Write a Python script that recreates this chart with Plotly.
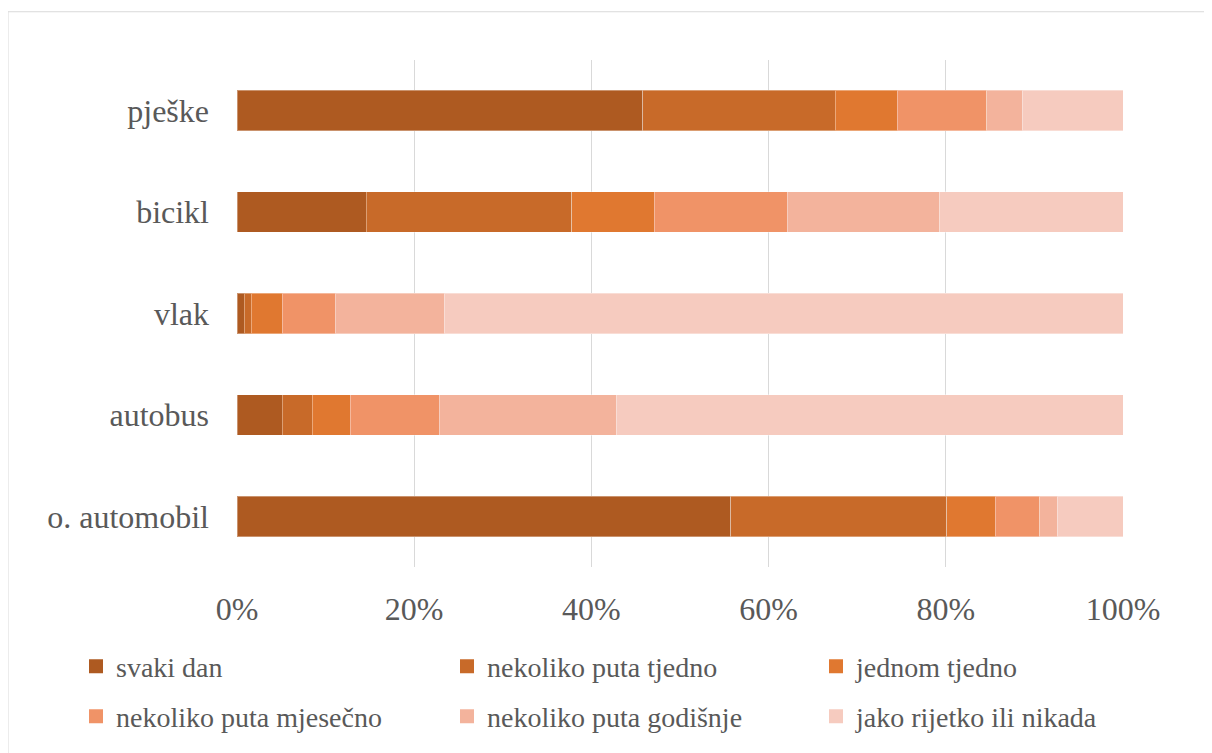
import plotly.graph_objects as go

categories = ["o. automobil", "autobus", "vlak", "bicikl", "pješke"]
series_names = ["svaki dan", "nekoliko puta tjedno", "jednom tjedno",
                "nekoliko puta mjesečno", "nekoliko puta godišnje", "jako rijetko ili nikada"]
svaki_dan = [55.7, 5.1, 0.8, 14.6, 45.8]
tjedno_vise = [24.4, 3.4, 0.8, 23.2, 21.7]
jednom_tjedno = [5.5, 4.3, 3.5, 9.3, 7.0]
mjesecno = [5.0, 10.0, 6.0, 15.0, 10.1]
godisnje = [2.0, 20.0, 12.3, 17.2, 4.0]
nikada = [7.4, 57.2, 76.6, 20.7, 11.4]
tick_vals = [0, 20, 40, 60, 80, 100]
tick_text = ["0%", "20%", "40%", "60%", "80%", "100%"]

colors = ["#AE5A21", "#C86A29", "#E07830", "#F09367", "#F3B39C", "#F6CBBF"]
values = [svaki_dan, tjedno_vise, jednom_tjedno, mjesecno, godisnje, nikada]

FONT = "Liberation Serif"
LEGEND_FONTS = ["serif", "Times New Roman", "Tinos", "Liberation Serif", "Times", "Tinos"]
TXT = "#595959"

# page body has an 8px margin; work in screen pixels and convert
OFF = 8
W, H = 1212 - OFF, 753 - OFF
PL, PR, PT, PB = 237, 1123, 60, 575  # plot area in screen pixels
L, R, T, B = PL - OFF, W - (PR - OFF), PT - OFF, H - (PB - OFF)
pw, ph = W - L - R, H - T - B

def px_x(x):
    return (x - OFF - L) / pw

def px_y(y):
    return (H - B - (y - OFF)) / ph

legend_names = ["legend", "legend2", "legend3", "legend4", "legend5", "legend6"]
leg_x = [76, 447, 816]
leg_y = [676, 727]

fig = go.Figure()
for i, (name, vals) in enumerate(zip(series_names, values)):
    fig.add_trace(go.Bar(
        y=categories, x=vals, name=name, orientation="h",
        marker=dict(color=colors[i], line=dict(color="rgba(255,255,255,0.35)", width=1)),
        legendgroup=name, showlegend=False,
    ))
# legend entries (square swatches)
for i, name in enumerate(series_names):
    fig.add_trace(go.Scatter(
        x=[None], y=[None], mode="markers", name=name,
        marker=dict(symbol="square", size=14, color=colors[i]),
        legendgroup=name, legend=legend_names[i], showlegend=True,
    ))

legend_layout = {}
for i, ln in enumerate(legend_names):
    legend_layout[ln] = dict(
        orientation="h", xanchor="left", yanchor="middle",
        x=px_x(leg_x[i % 3]), y=px_y(leg_y[i // 3]),
        font=dict(family=LEGEND_FONTS[i], size=28, color=TXT),
        bgcolor="rgba(0,0,0,0)", borderwidth=0,
        itemclick=False, itemdoubleclick=False, visible=True,
    )

fig.update_layout(
    width=W, height=H, showlegend=True,
    margin=dict(l=L, r=R, t=T, b=B, pad=0),
    paper_bgcolor="white", plot_bgcolor="white",
    barmode="stack", bargap=0.6,
    font=dict(family=FONT, color=TXT),
    xaxis=dict(
        range=[0, 100], tickvals=tick_vals, ticktext=tick_text,
        showgrid=True, gridcolor="#D9D9D9", gridwidth=1.3,
        zeroline=False, showline=False, ticks="",
        tickfont=dict(family="Times New Roman", size=32, color=TXT),
        ticklabelstandoff=20, fixedrange=True,
    ),
    yaxis=dict(
        categoryorder="array", categoryarray=categories,
        showgrid=False, zeroline=False, showline=False, ticks="",
        tickfont=dict(family=FONT, size=32, color=TXT),
        ticklabelstandoff=27, fixedrange=True,
    ),
    shapes=[dict(
        type="rect", xref="paper", yref="paper",
        x0=px_x(8), x1=px_x(1240), y0=px_y(780), y1=px_y(11),
        line=dict(color="#D9D9D9", width=1), fillcolor="rgba(0,0,0,0)", layer="below",
    )],
    **legend_layout,
)

fig.write_html("out.html")
